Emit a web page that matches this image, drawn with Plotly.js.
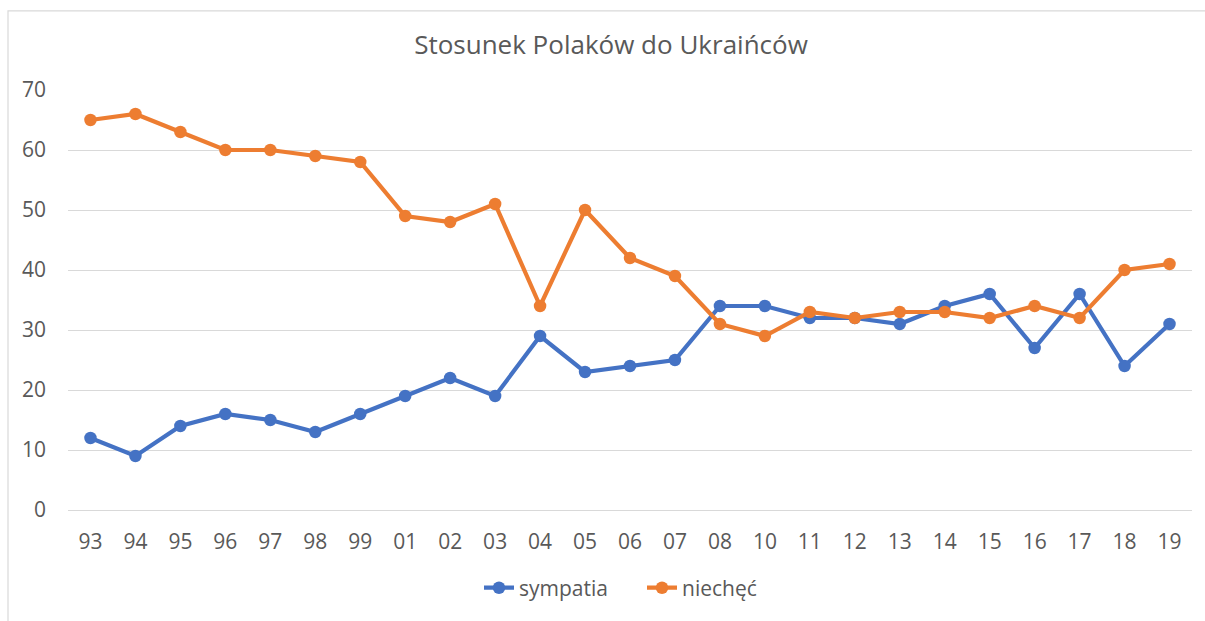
<!DOCTYPE html>
<html>
<head>
<meta charset="utf-8">
<script src="https://cdn.plot.ly/plotly-3.0.1.min.js"></script>
<style>
  html, body { margin: 0; padding: 0; background: #fff; }
  #chart { width: 1205px; height: 621px; }
</style>
</head>
<body>
<div id="chart"></div>
<script>
const years = ['93','94','95','96','97','98','99','01','02','03','04','05','06','07','08','10','11','12','13','14','15','16','17','18','19'];
const sympatia = [12,9,14,16,15,13,16,19,22,19,29,23,24,25,34,34,32,32,31,34,36,27,36,24,31];
const niechec = [65,66,63,60,60,59,58,49,48,51,34,50,42,39,31,29,33,32,33,33,32,34,32,40,41];
const seriesNames = ['sympatia', 'niechęć'];
const yTicks = [0,10,20,30,40,50,60,70];

const FONT = '"Open Sans", "Noto Sans", sans-serif';
const TXT = '#595959';

const traces = [
  {
    x: years, y: sympatia, name: seriesNames[0], type: 'scatter', mode: 'lines+markers',
    line: { color: '#4472C4', width: 4.2 },
    marker: { color: '#4472C4', size: 12.5 }
  },
  {
    x: years, y: niechec, name: seriesNames[1], type: 'scatter', mode: 'lines+markers',
    line: { color: '#ED7D31', width: 4.2 },
    marker: { color: '#ED7D31', size: 12.5 }
  }
];

const L = 68, R = 1192, T = 90, B = 515;
const pw = R - L, ph = B - T;
const px = v => (v - L) / pw;
const py = v => (B - v) / ph;

const layout = {
  width: 1205, height: 621,
  margin: { l: L, r: 1205 - R, t: T, b: 621 - B, pad: 0 },
  paper_bgcolor: '#ffffff', plot_bgcolor: '#ffffff',
  font: { family: FONT, color: TXT, size: 21 },
  title: {
    text: 'Stosunek Polaków do Ukraińców',
    font: { family: FONT, size: 26, color: TXT },
    x: px(611), xanchor: 'center', xref: 'paper',
    y: 1 - 45 / 621, yanchor: 'middle', yref: 'container'
  },
  xaxis: {
    type: 'category', categoryorder: 'array', categoryarray: years,
    range: [-0.5, years.length - 0.5],
    showgrid: false, zeroline: false,
    showline: true, linecolor: '#d9d9d9', linewidth: 1,
    ticks: '', ticklabelstandoff: 13,
    tickfont: { family: FONT, size: 21, color: TXT },
    fixedrange: true
  },
  yaxis: {
    range: [0, 70], tickvals: yTicks, ticktext: yTicks.map(String),
    showgrid: true, gridcolor: '#d9d9d9', gridwidth: 1,
    zeroline: false, showline: false, ticks: '', ticklabelstandoff: 21,
    tickfont: { family: FONT, size: 21, color: TXT },
    fixedrange: true
  },
  showlegend: true,
  legend: {
    orientation: 'h', x: px(642), xanchor: 'center',
    y: py(594), yanchor: 'middle',
    font: { family: FONT, size: 21, color: TXT },
    itemwidth: 30, entrywidth: 118, entrywidthmode: 'pixels',
    bgcolor: 'rgba(0,0,0,0)'
  },
  shapes: [
    {
      type: 'rect', xref: 'paper', yref: 'paper', layer: 'below',
      x0: px(8), x1: px(1215), y0: py(630), y1: py(10),
      line: { color: '#d9d9d9', width: 1.2 }, fillcolor: 'rgba(0,0,0,0)'
    }
  ],
  hovermode: false
};

Plotly.newPlot('chart', traces, layout, { displayModeBar: false, staticPlot: true });
</script>
</body>
</html>
